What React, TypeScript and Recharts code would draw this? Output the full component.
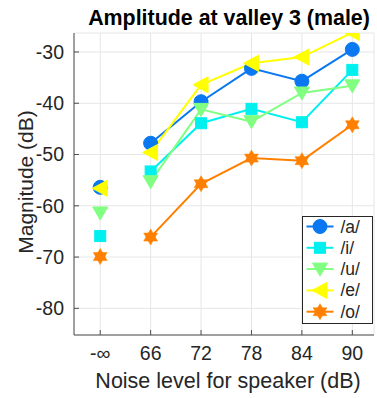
import React from "react";
import { LineChart, Line, XAxis, YAxis, CartesianGrid } from "recharts";

const categories = ["-∞", "66", "72", "78", "84", "90"];
const vowelA = [-56.4, -47.8, -39.7, -33.2, -35.7, -29.5];
const vowelI = [-65.9, -53.3, -43.9, -41.1, -43.7, -33.5];
const vowelU = [-61.4, -55.3, -41.2, -43.6, -38.0, -36.6];
const vowelE = [-56.6, -49.6, -36.4, -32.2, -31.0, -26.2];
const vowelO = [-69.9, -66.1, -55.7, -50.7, -51.2, -44.2];
const yTicks = [-80, -70, -60, -50, -40, -30];
const xTicks = [0, 1, 2, 3, 4, 5];

const series = [
  { key: "a", name: "/a/", values: vowelA, color: "#0a78f0", shape: "circle" },
  { key: "i", name: "/i/", values: vowelI, color: "#00f0f0", shape: "square" },
  { key: "u", name: "/u/", values: vowelU, color: "#80ff80", shape: "down" },
  { key: "e", name: "/e/", values: vowelE, color: "#ffff00", shape: "left" },
  { key: "o", name: "/o/", values: vowelO, color: "#ff8000", shape: "star" },
];

const data = categories.map((c, idx) => {
  const row: any = { x: idx, label: c };
  series.forEach((s) => {
    row[s.key] = idx === 0 ? null : s.values[idx];
    row[s.key + "0"] = idx === 0 ? s.values[idx] : null;
  });
  return row;
});

const FONT = "'Liberation Sans', Arial, Helvetica, sans-serif";
const TEXT = "#262626";
const AXIS = "#4d4d4d";

function Marker({ shape, cx, cy, color }: any) {
  if (shape === "circle") return <circle cx={cx} cy={cy} r={7} fill={color} stroke={color} />;
  if (shape === "square")
    return <rect x={cx - 5.5} y={cy - 5.5} width={11} height={11} fill={color} stroke={color} />;
  if (shape === "down")
    return (
      <polygon
        points={`${cx - 7.5},${cy - 6} ${cx + 7.5},${cy - 6} ${cx},${cy + 7}`}
        fill={color}
        stroke={color}
      />
    );
  if (shape === "left")
    return (
      <polygon
        points={`${cx - 8},${cy} ${cx + 7},${cy - 8} ${cx + 7},${cy + 8}`}
        fill={color}
        stroke={color}
      />
    );
  const r = 8;
  const pts = (off: number) =>
    [0, 1, 2]
      .map((k) => {
        const a = off + (k * 2 * Math.PI) / 3;
        return `${cx + r * Math.sin(a)},${cy - r * Math.cos(a)}`;
      })
      .join(" ");
  return (
    <g>
      <polygon points={pts(0)} fill={color} stroke={color} strokeWidth={0.5} />
      <polygon points={pts(Math.PI)} fill={color} stroke={color} strokeWidth={0.5} />
    </g>
  );
}

const makeDot = (shape: string, color: string) => (props: any) => {
  const { cx, cy, index, value } = props;
  if (value == null || cy == null || isNaN(cy)) return <g key={`d-${shape}-${index}`} />;
  return (
    <g key={`d-${shape}-${index}`}>
      <Marker shape={shape} cx={cx} cy={cy} color={color} />
    </g>
  );
};

function Overlay() {
  const lx = 302.5;
  const ly = 216.5;
  return (
    <svg
      width={377}
      height={398}
      style={{ position: "absolute", left: 0, top: 0, pointerEvents: "none" }}
    >
      <text
        x={229}
        y={25}
        textAnchor="middle"
        fontFamily={FONT}
        fontWeight="bold"
        fontSize={21.4}
        fill="#000"
      >
        Amplitude at valley 3 (male)
      </text>
      <rect x={lx} y={ly} width={70} height={107} fill="#fff" stroke={TEXT} strokeWidth={1} />
      {series.map((s, k) => {
        const y = ly + 10 + k * 21.3;
        return (
          <g key={s.key}>
            <line x1={lx + 4} x2={lx + 31} y1={y} y2={y} stroke={s.color} strokeWidth={2} />
            <Marker shape={s.shape} cx={lx + 17.5} cy={y} color={s.color} />
            <text x={lx + 38} y={y + 6} fontSize={17.5} fontFamily={FONT} fill={TEXT}>
              {s.name}
            </text>
          </g>
        );
      })}
    </svg>
  );
}

const YLabel = (props: any) => {
  const vb = props.viewBox || {};
  const cy = 182;
  const cx = 33;
  return (
    <text
      x={cx}
      y={cy}
      transform={`rotate(-90, ${cx}, ${cy})`}
      textAnchor="middle"
      fontFamily={FONT}
      fontSize={21}
      fill={TEXT}
    >
      Magnitude (dB)
    </text>
  );
};

const XLabel = (props: any) => {
  return (
    <text x={228} y={388} textAnchor="middle" fontFamily={FONT} fontSize={21.5} fill={TEXT}>
      Noise level for speaker (dB)
    </text>
  );
};

export default function App() {
  return (
    <div style={{ position: "absolute", left: 0, top: 0, width: 377, height: 398, background: "#fff" }}>
      <LineChart
        width={377}
        height={398}
        data={data}
        margin={{ top: 33, right: 3, bottom: 23, left: 0 }}
        style={{ fontFamily: FONT }}
      >
        <CartesianGrid stroke="#e6e6e6" strokeWidth={1} />
        <XAxis
          dataKey="x"
          type="number"
          domain={[-0.52, 5.43]}
          ticks={xTicks}
          allowDataOverflow
          tickFormatter={(v: number) => categories[v]}
          height={40}
          stroke={AXIS}
          tickSize={-5}
          tickMargin={16}
          tick={{ fill: TEXT, fontSize: 19.5, fontFamily: FONT }}
          label={<XLabel />}
        />
        <XAxis
          xAxisId="top"
          dataKey="x"
          type="number"
          orientation="top"
          domain={[-0.52, 5.43]}
          ticks={xTicks}
          allowDataOverflow
          height={0}
          stroke={AXIS}
          tickSize={-5}
          tick={false}
        />
        <YAxis
          type="number"
          domain={[-85.2, -26.3]}
          ticks={yTicks}
          allowDataOverflow
          width={74}
          stroke={AXIS}
          tickSize={-5}
          tickMargin={15}
          tick={{ fill: TEXT, fontSize: 19.5, fontFamily: FONT }}
          label={<YLabel />}
        />
        <YAxis
          yAxisId="right"
          type="number"
          orientation="right"
          domain={[-85.2, -26.3]}
          ticks={yTicks}
          allowDataOverflow
          width={0}
          stroke={AXIS}
          tickSize={-5}
          tick={false}
        />
        {series.map((s) => (
          <Line
            key={s.key}
            dataKey={s.key}
            name={s.name}
            stroke={s.color}
            strokeWidth={2}
            isAnimationActive={false}
            connectNulls={false}
            dot={makeDot(s.shape, s.color)}
            activeDot={false}
          />
        ))}
        {series.map((s) => (
          <Line
            key={s.key + "0"}
            dataKey={s.key + "0"}
            stroke="none"
            legendType="none"
            isAnimationActive={false}
            dot={makeDot(s.shape, s.color)}
            activeDot={false}
          />
        ))}
      </LineChart>
      <Overlay />
    </div>
  );
}
